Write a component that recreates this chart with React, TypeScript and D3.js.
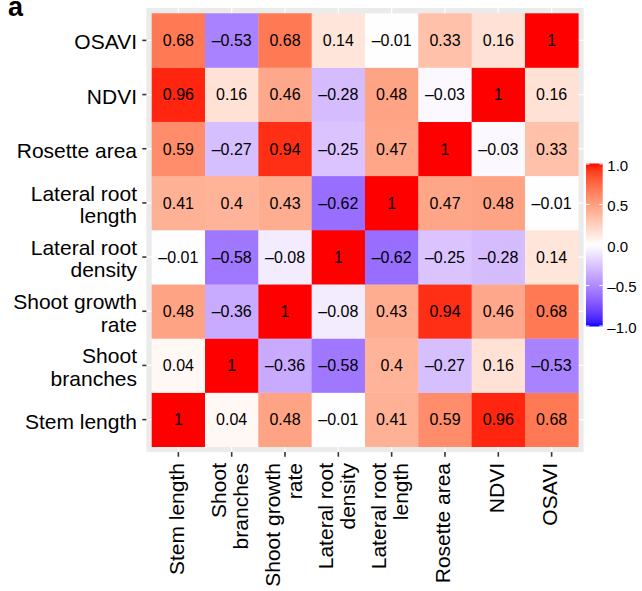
import React from "react";
import * as d3 from "d3";

const variables = [
  "Stem length",
  "Shoot branches",
  "Shoot growth rate",
  "Lateral root density",
  "Lateral root length",
  "Rosette area",
  "NDVI",
  "OSAVI",
];

const labelLines: Record<string, string[]> = {
  "Stem length": ["Stem length"],
  "Shoot branches": ["Shoot", "branches"],
  "Shoot growth rate": ["Shoot growth", "rate"],
  "Lateral root density": ["Lateral root", "density"],
  "Lateral root length": ["Lateral root", "length"],
  "Rosette area": ["Rosette area"],
  NDVI: ["NDVI"],
  OSAVI: ["OSAVI"],
};

const rowStemLength = [1, 0.04, 0.48, -0.01, 0.41, 0.59, 0.96, 0.68];
const rowShootBranches = [0.04, 1, -0.36, -0.58, 0.4, -0.27, 0.16, -0.53];
const rowShootGrowth = [0.48, -0.36, 1, -0.08, 0.43, 0.94, 0.46, 0.68];
const rowLRDensity = [-0.01, -0.58, -0.08, 1, -0.62, -0.25, -0.28, 0.14];
const rowLRLength = [0.41, 0.4, 0.43, -0.62, 1, 0.47, 0.48, -0.01];
const rowRosette = [0.59, -0.27, 0.94, -0.25, 0.47, 1, -0.03, 0.33];
const rowNDVI = [0.96, 0.16, 0.46, -0.28, 0.48, -0.03, 1, 0.16];
const rowOSAVI = [0.68, -0.53, 0.68, 0.14, -0.01, 0.33, 0.16, 1];

const matrix = [
  rowStemLength,
  rowShootBranches,
  rowShootGrowth,
  rowLRDensity,
  rowLRLength,
  rowRosette,
  rowNDVI,
  rowOSAVI,
];

const legendTicks = [1, 0.5, 0, -0.5, -1];
const legendLabels = ["1.0", "0.5", "0.0", "\u20130.5", "\u20131.0"];

const FONT = "'Liberation Sans', Arial, Helvetica, sans-serif";

export default function App() {
  const cellLeft = 151.7;
  const cellRight = 578.3;
  const cellTop = 13.3;
  const cellBottom = 446.7;

  const x = d3.scaleBand<string>().domain(variables).range([cellLeft, cellRight]).padding(0);
  const y = d3
    .scaleBand<string>()
    .domain([...variables].reverse())
    .range([cellTop, cellBottom])
    .padding(0);

  const bw = x.bandwidth();
  const bh = y.bandwidth();
  const panelX0 = cellLeft - 0.1 * bw;
  const panelX1 = cellRight + 0.1 * bw;
  const panelY0 = cellTop - 0.1 * bh;
  const panelY1 = cellBottom + 0.1 * bh;

  const color = d3
    .scaleLinear<string>()
    .domain([-1, 0, 1])
    .range(["blue", "white", "red"])
    .interpolate(d3.interpolateLab);

  const fmt = (v: number) => String(v).replace("-", "\u2013");

  const cells: { xv: string; yv: string; v: number }[] = [];
  variables.forEach((yv, i) => {
    variables.forEach((xv, j) => {
      cells.push({ xv, yv, v: matrix[i][j] });
    });
  });

  // legend
  const legX = 586;
  const legW = 16.7;
  const legY = d3.scaleLinear().domain([1, -1]).range([164, 326]);
  const gradStops = d3.range(0, 41).map((k) => {
    const v = 1 - (2 * k) / 40;
    return { offset: k / 40, c: color(v) };
  });

  const yLH = 22.7;
  const xLH = 22;

  return (
    <svg
      width={642}
      height={591}
      style={{ position: "absolute", left: 0, top: 0, background: "white" }}
      fontFamily={FONT}
    >
      <defs>
        <linearGradient id="legGrad" x1="0" y1="0" x2="0" y2="1">
          {gradStops.map((s, i) => (
            <stop key={i} offset={s.offset} stopColor={s.c} />
          ))}
        </linearGradient>
      </defs>

      <text x={8} y={16} fontSize={27} fontWeight="bold" fill="#000">
        a
      </text>

      {/* panel background */}
      <rect x={panelX0} y={panelY0} width={panelX1 - panelX0} height={panelY1 - panelY0} fill="#EBEBEB" />
      {/* grid lines */}
      {variables.map((v) => (
        <line
          key={"gx" + v}
          x1={x(v)! + bw / 2}
          x2={x(v)! + bw / 2}
          y1={panelY0}
          y2={panelY1}
          stroke="white"
          strokeWidth={1.3}
        />
      ))}
      {variables.map((v) => (
        <line
          key={"gy" + v}
          y1={y(v)! + bh / 2}
          y2={y(v)! + bh / 2}
          x1={panelX0}
          x2={panelX1}
          stroke="white"
          strokeWidth={1.3}
        />
      ))}

      {/* tiles */}
      {cells.map((c, i) => (
        <rect
          key={"t" + i}
          x={x(c.xv)!}
          y={y(c.yv)!}
          width={bw + 0.3}
          height={bh + 0.3}
          fill={color(c.v)}
        />
      ))}
      {cells.map((c, i) => (
        <text
          key={"l" + i}
          x={x(c.xv)! + bw / 2}
          y={y(c.yv)! + bh / 2 + 5.8}
          textAnchor="middle"
          fontSize={16}
          fill="#000"
        >
          {fmt(c.v)}
        </text>
      ))}

      {/* y axis */}
      {variables.map((v) => {
        const cy = y(v)! + bh / 2;
        const lines = labelLines[v];
        const n = lines.length;
        return (
          <g key={"ya" + v}>
            <line x1={142.3} x2={panelX0} y1={cy} y2={cy} stroke="#333" strokeWidth={1.6} />
            {lines.map((ln, k) => (
              <text
                key={k}
                x={137}
                y={cy + 9 + (k - (n - 1) / 2) * yLH}
                textAnchor="end"
                fontSize={21}
                fill="#000"
              >
                {ln}
              </text>
            ))}
          </g>
        );
      })}

      {/* x axis */}
      {variables.map((v) => {
        const cx = x(v)! + bw / 2;
        const lines = labelLines[v];
        const n = lines.length;
        return (
          <g key={"xa" + v}>
            <line x1={cx} x2={cx} y1={panelY1} y2={456.7} stroke="#333" strokeWidth={1.6} />
            {lines.map((ln, k) => {
              const bx = cx + 5.5 + (k - (n - 1) / 2) * xLH;
              return (
                <text
                  key={k}
                  transform={`translate(${bx},463) rotate(-90)`}
                  textAnchor="end"
                  fontSize={21}
                  fill="#000"
                >
                  {ln}
                </text>
              );
            })}
          </g>
        );
      })}

      {/* legend */}
      <rect x={legX} y={legY(1) - 0.5} width={legW} height={legY(-1) - legY(1) + 1} fill="url(#legGrad)" />
      {legendTicks.map((t, i) => (
        <g key={"lt" + t}>
          <line x1={legX} x2={legX + 3.4} y1={legY(t)} y2={legY(t)} stroke="white" strokeWidth={1} />
          <line x1={legX + legW - 3.4} x2={legX + legW} y1={legY(t)} y2={legY(t)} stroke="white" strokeWidth={1} />
          <text x={607.3} y={legY(t) + 6.5} fontSize={15} fill="#000">
            {legendLabels[i]}
          </text>
        </g>
      ))}
    </svg>
  );
}
